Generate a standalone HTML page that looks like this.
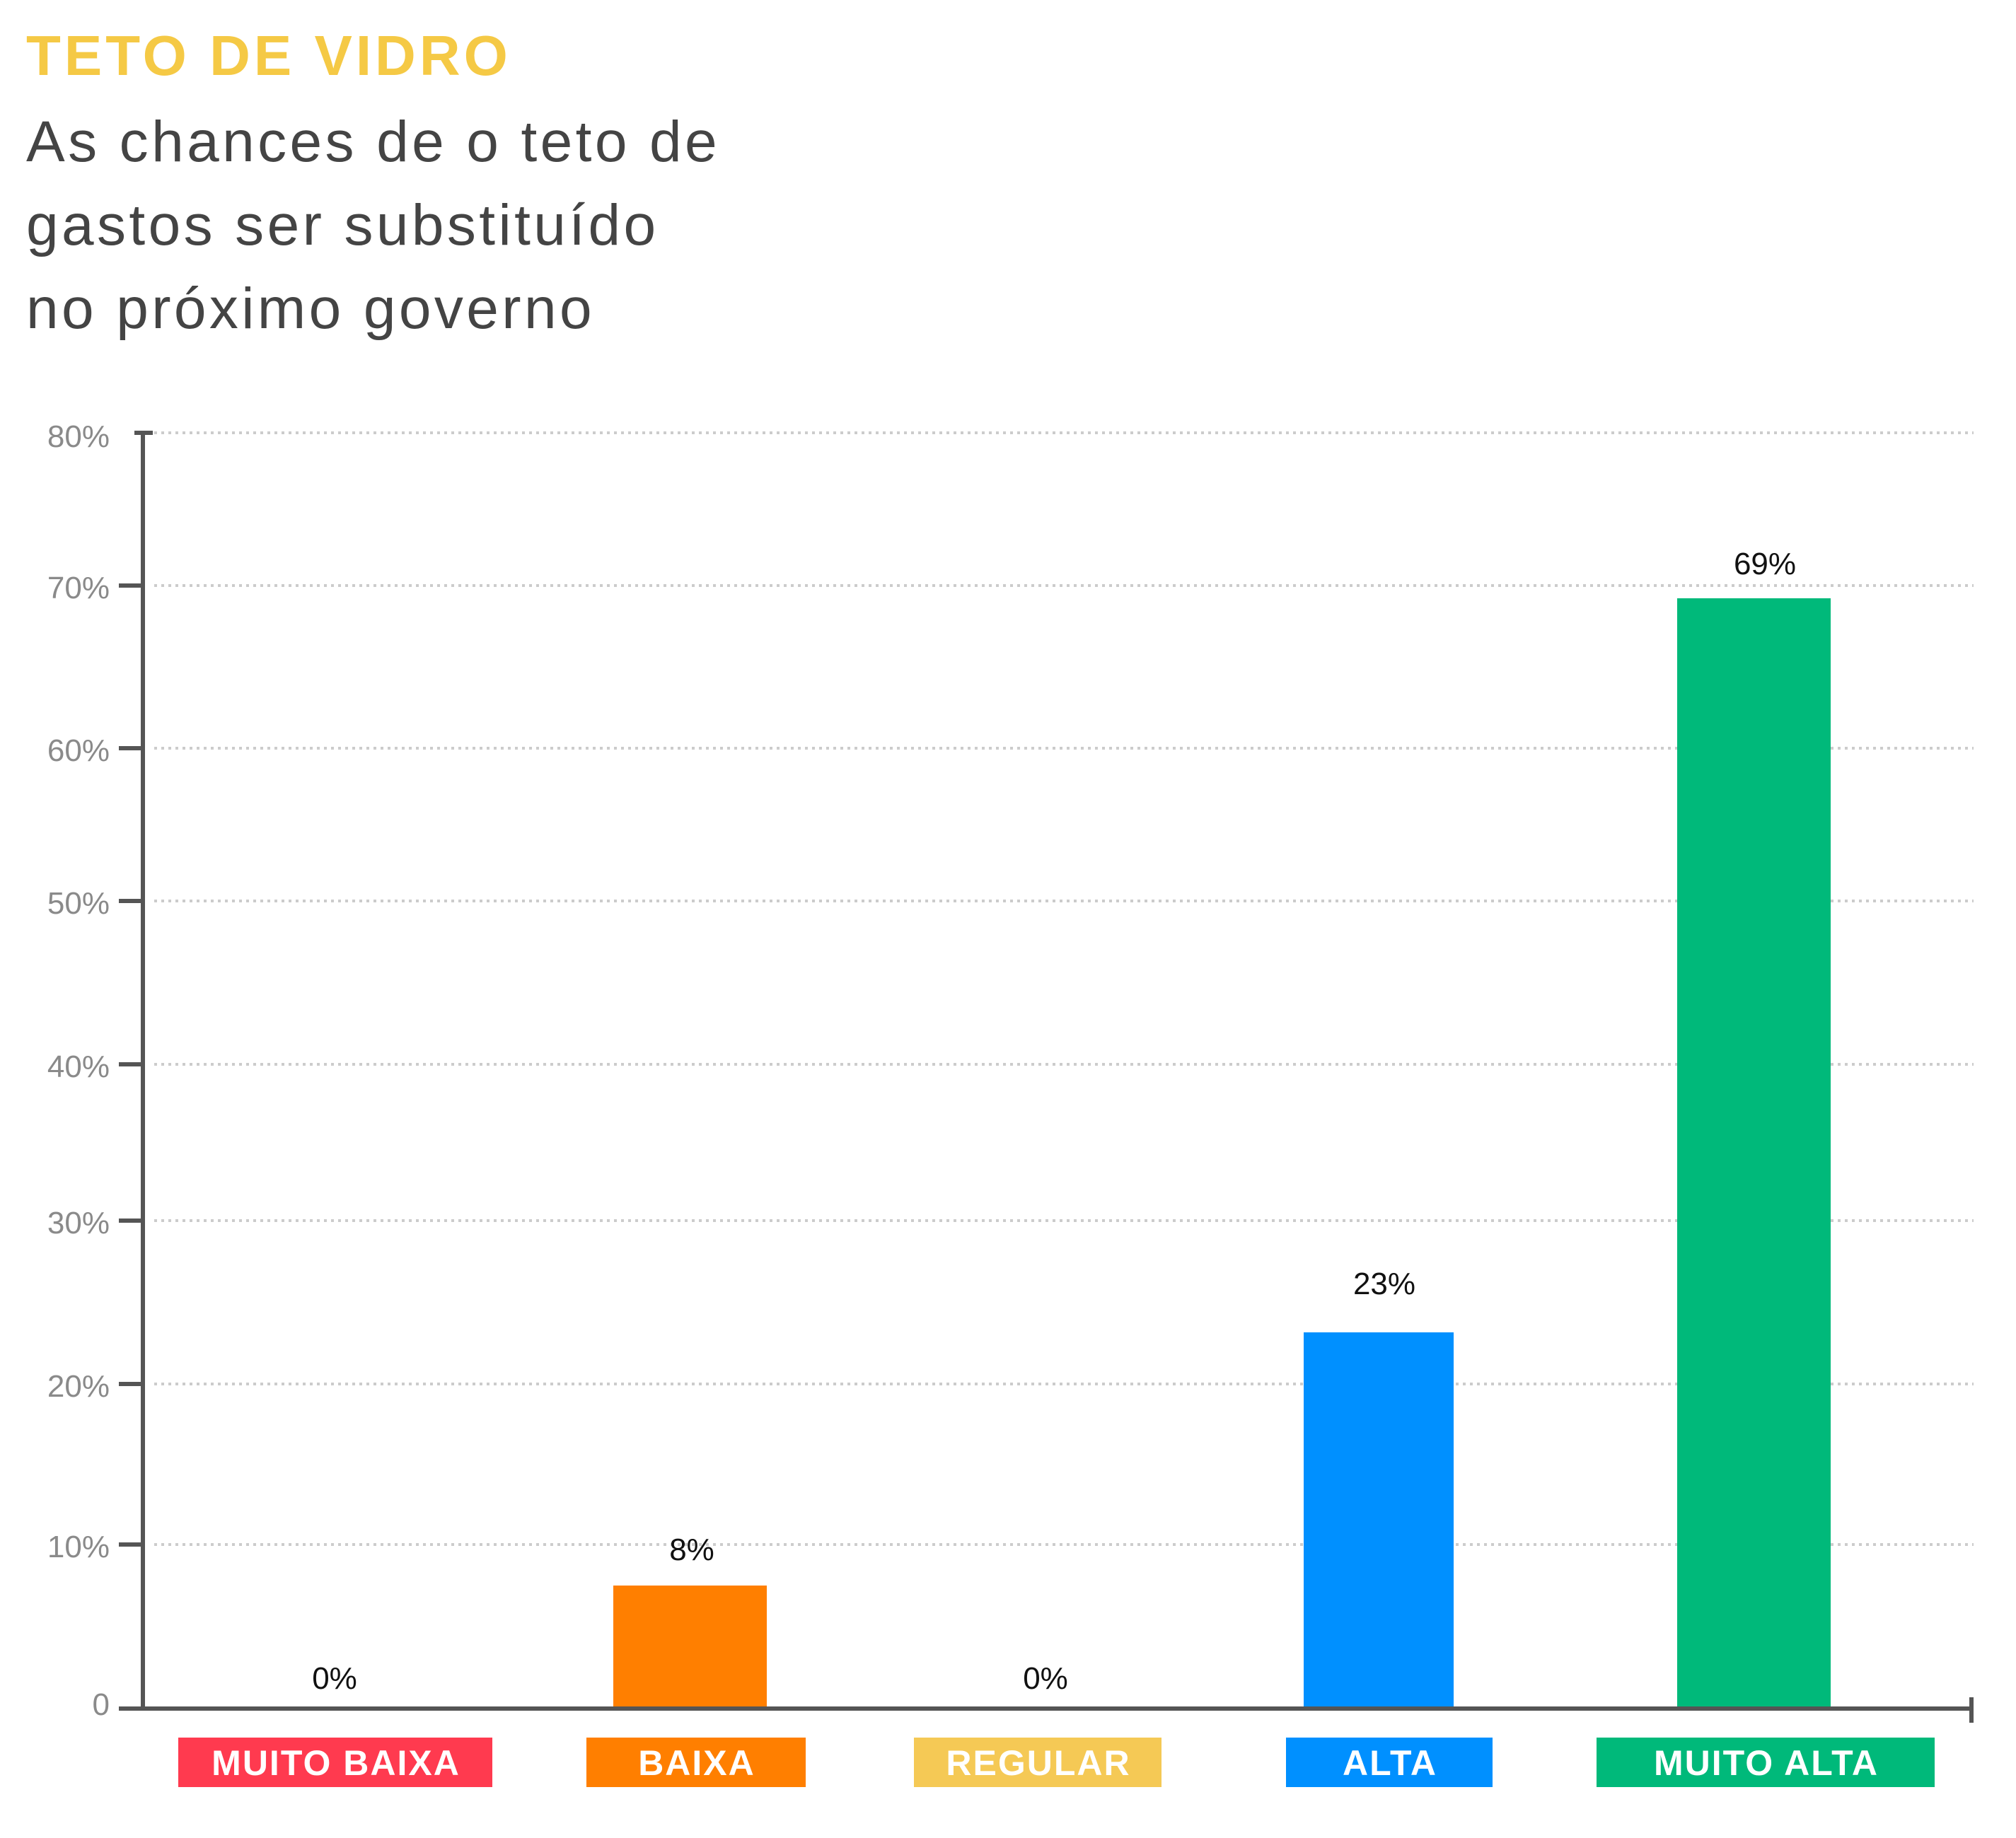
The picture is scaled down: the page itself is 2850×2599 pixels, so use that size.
<!DOCTYPE html>
<html><head><meta charset="utf-8"><style>
html,body{margin:0;padding:0;background:#fff;}
</style></head><body>
<svg width="2850" height="2594" xmlns="http://www.w3.org/2000/svg" font-family="'Liberation Sans', sans-serif">
<text x="37" y="106" font-size="80" font-weight="bold" fill="#f5c945" letter-spacing="5">TETO DE VIDRO</text>
<g font-size="82" fill="#444" letter-spacing="4.4">
<text x="37" y="228">As chances de o teto de</text>
<text x="37" y="346">gastos ser substituído</text>
<text x="37" y="464">no próximo governo</text>
</g>
<g stroke="#ccc" stroke-width="4" stroke-dasharray="4 6">
<line x1="218" y1="612" x2="2790" y2="612"/>
<line x1="218" y1="828" x2="2790" y2="828"/>
<line x1="218" y1="1058" x2="2790" y2="1058"/>
<line x1="218" y1="1274" x2="2790" y2="1274"/>
<line x1="218" y1="1505" x2="2790" y2="1505"/>
<line x1="218" y1="1726" x2="2790" y2="1726"/>
<line x1="218" y1="1957" x2="2790" y2="1957"/>
<line x1="218" y1="2184" x2="2790" y2="2184"/>
</g>
<g font-size="44" fill="#8a8a8a" text-anchor="end">
<text x="155" y="632">80%</text>
<text x="155" y="846">70%</text>
<text x="155" y="1076">60%</text>
<text x="155" y="1292">50%</text>
<text x="155" y="1523">40%</text>
<text x="155" y="1744">30%</text>
<text x="155" y="1975">20%</text>
<text x="155" y="2202">10%</text>
<text x="155" y="2425">0</text>
</g>
<g stroke="#555" stroke-width="6">
<line x1="202" y1="610" x2="202" y2="2418"/>
<line x1="190" y1="612" x2="216" y2="612"/>
<line x1="168" y1="828" x2="202" y2="828"/>
<line x1="168" y1="1058" x2="202" y2="1058"/>
<line x1="168" y1="1274" x2="202" y2="1274"/>
<line x1="168" y1="1505" x2="202" y2="1505"/>
<line x1="168" y1="1726" x2="202" y2="1726"/>
<line x1="168" y1="1957" x2="202" y2="1957"/>
<line x1="168" y1="2184" x2="202" y2="2184"/>
<line x1="168" y1="2416" x2="2790" y2="2416"/>
<line x1="2787" y1="2400" x2="2787" y2="2436"/>
</g>
<rect x="867" y="2242" width="217" height="171" fill="#ff7f00"/>
<rect x="1843" y="1884" width="212" height="529" fill="#0090ff"/>
<rect x="2371" y="846" width="217" height="1567" fill="#00b97a"/>
<g font-size="44" fill="#111" text-anchor="middle">
<text x="473" y="2388">0%</text>
<text x="978" y="2206">8%</text>
<text x="1478" y="2388">0%</text>
<text x="1957" y="1830">23%</text>
<text x="2495" y="812">69%</text>
</g>
<rect x="252" y="2457" width="444" height="70" fill="#ff3a4f"/>
<rect x="829" y="2457" width="310" height="70" fill="#ff7f00"/>
<rect x="1292" y="2457" width="350" height="70" fill="#f5c955"/>
<rect x="1818" y="2457" width="292" height="70" fill="#0090ff"/>
<rect x="2257" y="2457" width="478" height="70" fill="#00b97a"/>
<g font-size="50" font-weight="bold" fill="#fff" text-anchor="middle" letter-spacing="2">
<text x="475" y="2510">MUITO BAIXA</text>
<text x="985" y="2510">BAIXA</text>
<text x="1468" y="2510">REGULAR</text>
<text x="1965" y="2510">ALTA</text>
<text x="2497" y="2510">MUITO ALTA</text>
</g>
</svg>
</body></html>
